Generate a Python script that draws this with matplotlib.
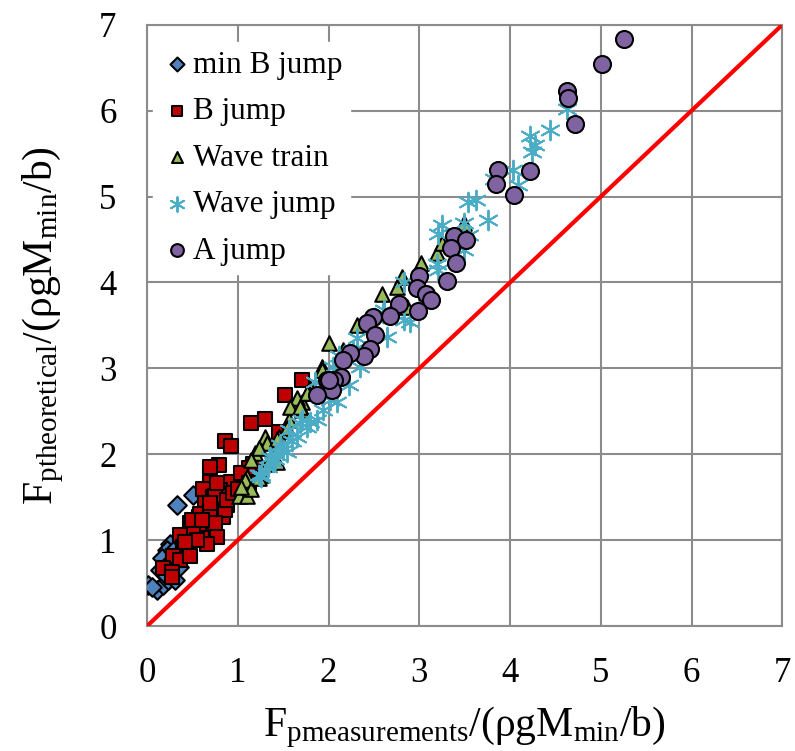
import numpy as np
import matplotlib
matplotlib.use("Agg")
from matplotlib import pyplot as plt

plt.rcParams['font.family'] = ['Liberation Serif', 'DejaVu Serif']
plt.rcParams['mathtext.fontset'] = 'custom'
plt.rcParams['mathtext.rm'] = 'Liberation Serif'
plt.rcParams['mathtext.it'] = 'Liberation Serif:italic'

# min B jump
minb_x = [0.51, 0.33, 0.25, 0.22, 0.16, 0.01, 0.11, 0.18, 0.23, 0.35, 0.31, 0.14,
          0.22, 0.29, 0.20, 0.27, 0.05]
minb_y = [1.53, 1.41, 0.96, 0.88, 0.79, 0.48, 0.42, 0.48, 0.54, 0.69, 0.54, 0.65,
          0.71, 0.87, 0.60, 0.76, 0.45]

# B jump
bj_x = [1.71, 1.52, 1.30, 1.15, 0.86, 0.92, 0.79, 0.69, 0.69, 0.92, 0.62, 0.80,
        0.73, 0.64, 0.84, 0.75, 0.88, 1.17, 1.12, 1.04, 1.12, 0.84, 0.57, 0.75,
        0.86, 0.58, 0.69, 0.75, 0.57, 0.47, 0.60, 0.51, 0.36, 0.40, 0.46, 0.29,
        0.36, 0.18, 0.27, 0.27, 0.47, 0.77, 0.66, 0.88, 0.69, 0.49, 0.60, 0.77,
        1.45, 0.95, 1.00, 0.55, 0.42]
bj_y = [2.86, 2.69, 2.41, 2.36, 2.15, 2.10, 1.87, 1.85, 1.68, 1.68, 1.60, 1.58,
        1.50, 1.43, 1.37, 1.35, 1.41, 1.89, 1.84, 1.78, 1.66, 1.27, 1.27, 1.51,
        1.35, 1.31, 1.29, 1.20, 1.16, 1.20, 1.02, 1.08, 1.06, 0.92, 0.88, 0.81,
        0.77, 0.67, 0.63, 0.57, 0.81, 1.04, 0.96, 1.47, 1.43, 1.23, 1.23, 1.66,
        2.26, 1.55, 1.60, 1.00, 0.98]

# Wave train
wt_x = [3.02, 3.19, 3.25, 3.49, 2.81, 2.75, 2.59, 2.86, 2.31, 2.01, 1.93, 1.93,
        1.80, 1.71, 1.65, 1.71, 1.56, 1.58, 1.54, 1.45, 1.30, 1.32, 1.19, 1.23,
        1.15, 1.43, 1.32, 1.10, 1.26, 1.43, 1.08, 1.01, 1.10, 1.14, 1.23, 1.69,
        1.78, 1.04, 2.16, 1.76]
wt_y = [4.23, 4.34, 4.46, 4.69, 4.06, 3.95, 3.87, 3.72, 3.50, 3.30, 3.02, 2.98,
        2.77, 2.61, 2.65, 2.51, 2.40, 2.55, 2.30, 2.20, 2.20, 2.13, 2.01, 2.07,
        1.93, 1.91, 1.89, 1.74, 1.76, 2.18, 1.70, 1.51, 1.51, 1.60, 1.72, 2.55,
        2.71, 1.62, 3.21, 2.71]

# Wave jump
wj_x = [4.63, 4.44, 4.22, 4.27, 4.24, 4.03, 4.09, 3.82, 3.54, 3.63, 3.76, 3.25,
        3.21, 3.49, 3.55, 3.49, 3.19, 3.21, 2.83, 2.83, 2.90, 2.64, 2.60, 2.61,
        2.31, 2.27, 2.35, 2.11, 2.05, 1.85, 2.02, 2.09, 2.22, 1.87, 1.80, 1.71,
        1.76, 1.65, 1.60, 1.56, 1.54, 1.43, 1.39, 1.36, 1.26, 1.47, 1.41, 1.23,
        1.69, 1.94, 1.25, 1.50, 1.33]
wj_y = [6.02, 5.78, 5.70, 5.60, 5.52, 5.31, 5.13, 5.20, 4.94, 4.96, 4.73, 4.67,
        4.57, 4.69, 4.55, 4.38, 4.22, 4.14, 4.01, 3.56, 3.54, 3.37, 3.64, 3.68,
        3.35, 3.21, 3.02, 3.14, 3.02, 2.84, 2.63, 2.61, 2.81, 2.40, 2.38, 2.40,
        2.32, 2.20, 2.15, 2.28, 2.03, 1.99, 1.91, 1.97, 1.76, 2.11, 1.95, 1.76,
        2.36, 2.51, 1.74, 2.05, 1.85]

# A jump
aj_x = [5.26, 5.01, 4.63, 4.64, 4.72, 3.87, 3.84, 4.22, 4.04, 3.38, 3.52, 3.35,
        3.40, 3.30, 3.00, 2.97, 3.07, 3.13, 2.78, 2.99, 2.68, 2.49, 2.42, 2.51,
        2.46, 2.39, 2.24, 2.16, 2.14, 1.98, 2.06, 2.04, 1.87, 2.00]
aj_y = [6.83, 6.54, 6.23, 6.15, 5.84, 5.31, 5.15, 5.30, 5.02, 4.54, 4.49, 4.40,
        4.23, 4.02, 4.07, 3.93, 3.86, 3.80, 3.75, 3.67, 3.61, 3.60, 3.53, 3.39,
        3.23, 3.14, 3.18, 3.10, 2.90, 2.86, 2.86, 2.75, 2.69, 2.87]

fig = plt.figure(figsize=(7.95, 7.51), dpi=100)
ax = fig.add_axes([0.185, 0.1664, 0.799, 0.8006])

ms = 90
ax.scatter(minb_x, minb_y, s=ms, marker='D', c='#4F81BD', edgecolors='black',
           linewidths=1.5, label='min B jump', zorder=3)
ax.scatter(bj_x, bj_y, s=ms, marker='s', c='#C00000', edgecolors='black',
           linewidths=1.5, label='B jump', zorder=3)
ax.scatter(wt_x, wt_y, s=ms + 20, marker='^', c='#9BBB59', edgecolors='black',
           linewidths=1.5, label='Wave train', zorder=3)
ax.scatter(wj_x, wj_y, s=ms + 110, marker=(6, 2, 0), c='#4BACC6',
           linewidths=1.4, label='Wave jump', zorder=3)
ax.scatter(aj_x, aj_y, s=ms + 60, marker='o', c='#8064A2', edgecolors='black',
           linewidths=1.5, label='A jump', zorder=3)

ax.plot([0, 7], [0, 7], color='#FF0000', linewidth=3, zorder=4)

ax.set(xlim=(0, 7), ylim=(0, 7))
ax.set_xticks(np.arange(0, 8, 1))
ax.set_yticks(np.arange(0, 8, 1))
ax.grid(which='major', color='#8C8C8C', linewidth=1.5)
ax.set_axisbelow(True)
for s in ax.spines.values():
    s.set_color('#8C8C8C')
    s.set_linewidth(1.5)
ax.tick_params(length=0, labelsize=25, pad=22)

ax.set_xlabel(r'F$_{\mathregular{pmeasurements}}$/(ρgM$_{\mathregular{min}}$/b)',
              fontsize=30, labelpad=11)
ax.set_ylabel(r'F$_{\mathregular{ptheoretical}}$/(ρgM$_{\mathregular{min}}$/b)',
              fontsize=30, labelpad=24)

leg = ax.legend(loc='upper left', bbox_to_anchor=(0.0, 0.981), fontsize=22.5,
                frameon=True, framealpha=1, edgecolor='white', fancybox=False,
                handletextpad=0.0, handlelength=1.0, labelspacing=0.56,
                borderaxespad=0.2, borderpad=0.26, markerscale=0.75)
leg.set_zorder(5)

fig.savefig("out.png")
